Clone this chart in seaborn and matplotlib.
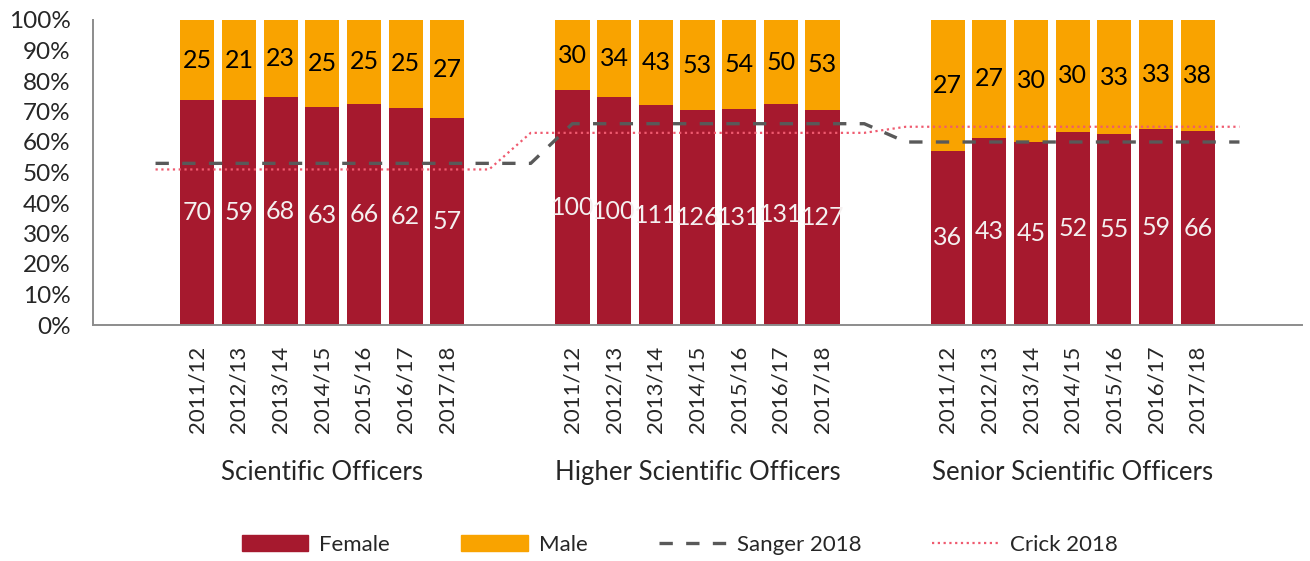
import numpy as np
import pandas as pd
import seaborn as sns
import matplotlib.pyplot as plt
import matplotlib.transforms as mtransforms
from matplotlib.patches import Patch
from matplotlib.lines import Line2D
from matplotlib.ticker import PercentFormatter

# data (headcounts)
groups = ['Scientific Officers', 'Higher Scientific Officers', 'Senior Scientific Officers']
years = ['2011/12', '2012/13', '2013/14', '2014/15', '2015/16', '2016/17', '2017/18']

so_female = [70, 59, 68, 63, 66, 62, 57]
so_male = [25, 21, 23, 25, 25, 25, 27]
hso_female = [100, 100, 111, 126, 131, 131, 127]
hso_male = [30, 34, 43, 53, 54, 50, 53]
sso_female = [36, 43, 45, 52, 55, 59, 66]
sso_male = [27, 27, 30, 30, 33, 33, 38]

# benchmark lines (category slot, share female)
sanger_slots = [1, 10, 11, 18, 19, 27]
sanger_pct = [0.53, 0.53, 0.66, 0.66, 0.60, 0.60]
crick_slots = [1, 9, 10, 18, 19, 27]
crick_pct = [0.51, 0.51, 0.63, 0.63, 0.65, 0.65]

female_col = '#A6192E'
male_col = '#F9A300'
sanger_col = '#595959'
crick_col = '#EF5A6F'
axis_col = '#8C8C8C'

n_slots = 29  # two empty slots between groups, like the Excel category axis
rows = []
for g, (fem, mal) in enumerate([(so_female, so_male), (hso_female, hso_male), (sso_female, sso_male)]):
    for i, yr in enumerate(years):
        rows.append({'group': groups[g], 'year': yr, 'slot': 2 + g * 9 + i,
                     'female': fem[i], 'male': mal[i]})
df = pd.DataFrame(rows)
df['total'] = 1.0
df['female_pct'] = df['female'] / (df['female'] + df['male'])

sns.set_style('white')
plt.rcParams['font.family'] = ['Lato', 'DejaVu Sans']

fig = plt.figure(figsize=(13.1, 5.61), dpi=100)
ax = fig.add_axes([93 / 1310, 1 - 325 / 561, (1302 - 93) / 1310, 305 / 561])

sns.barplot(data=df, x='slot', y='total', native_scale=True, color=male_col,
            saturation=1, width=0.82, errorbar=None, linewidth=0, ax=ax)
sns.barplot(data=df, x='slot', y='female_pct', native_scale=True, color=female_col,
            saturation=1, width=0.82, errorbar=None, linewidth=0, ax=ax)

ax.bar_label(ax.containers[1], labels=df['female'].astype(str), label_type='center',
             color='#F4F0F0', fontsize=18)
for _, r in df.iterrows():
    ax.text(r['slot'], (r['female_pct'] + 1) / 2, str(r['male']), ha='center', va='center',
            fontsize=18, color='black')

sns.lineplot(x=sanger_slots, y=sanger_pct, color=sanger_col, lw=2.4,
             dashes=False, ax=ax, zorder=5).lines[-1].set_dashes((4, 4))
sns.lineplot(x=crick_slots, y=crick_pct, color=crick_col, lw=1.6, ax=ax, zorder=5)
ax.lines[-1].set_linestyle((0, (1, 1.6)))

ax.set_xlim(-0.5, n_slots - 0.5)
ax.set_ylim(0, 1)
ax.set_yticks(np.arange(0, 1.01, 0.1))
ax.yaxis.set_major_formatter(PercentFormatter(1.0, decimals=0))
ax.set_xticks(np.arange(-0.5, n_slots, 1.0))
ax.set_xticklabels([])
ax.set_xticks(df['slot'], df['year'], minor=True)
ax.tick_params(axis='x', which='major', direction='out', length=5, width=1.3, color=axis_col)
ax.tick_params(axis='x', which='minor', length=0, pad=15, labelrotation=90, labelsize=16)
ax.tick_params(axis='y', direction='out', length=6, width=1.3, color=axis_col, pad=10,
               labelsize=17.5)
ax.set_xlabel('')
ax.set_ylabel('')
sns.despine(ax=ax)
for s in ['left', 'bottom']:
    ax.spines[s].set_color(axis_col)
    ax.spines[s].set_linewidth(1.4)

trans = mtransforms.blended_transform_factory(ax.transData, ax.transAxes)
for g in groups:
    mid = df.loc[df['group'] == g, 'slot'].mean()
    ax.text(mid, -0.485, g, transform=trans, ha='center', va='center', fontsize=18.5)

handles = [Patch(color=female_col, label='Female'), Patch(color=male_col, label='Male'),
           Line2D([], [], color=sanger_col, lw=2.4, dashes=(4, 4), label='Sanger 2018'),
           Line2D([], [], color=crick_col, lw=1.6, linestyle=(0, (1, 1.6)), label='Crick 2018')]
fig.legend(handles=handles, loc='center', bbox_to_anchor=(0.519, 0.0285), ncol=4,
           frameon=False, fontsize=16, handlelength=3.0, handleheight=0.7,
           columnspacing=3.2, handletextpad=0.5)

fig.savefig('out.png', dpi=100)
